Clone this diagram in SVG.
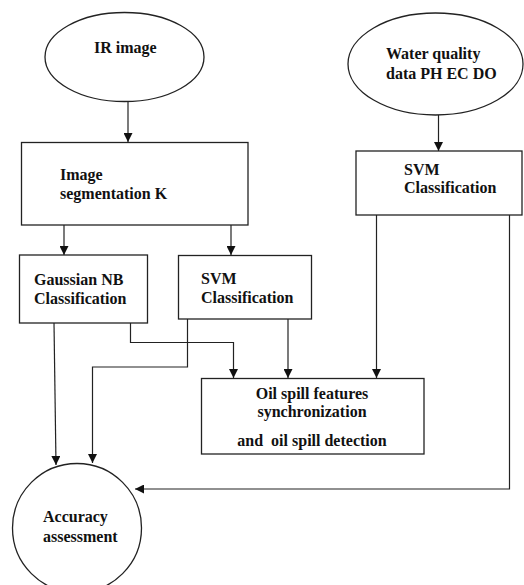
<svg xmlns="http://www.w3.org/2000/svg" width="524" height="585" viewBox="0 0 524 585">
<style>
.shape{fill:#fff;stroke:#222;stroke-width:1.3}
text{font-family:'Liberation Serif','DejaVu Serif','Times New Roman',serif;font-weight:bold;font-size:16px;fill:#111}
.c{text-anchor:middle}
.conn{fill:none;stroke:#222;stroke-width:1.2}
</style>
<defs>
<marker id="ah" viewBox="0 0 10 10" refX="10" refY="5" markerWidth="9" markerHeight="9" markerUnits="userSpaceOnUse" orient="auto">
<path d="M0,0 L10,5 L0,10 z" fill="#111"/>
</marker>
</defs>
<rect width="524" height="585" fill="#fff"/>
<g id="connectors">
<path class="conn" d="M128,102 V142" marker-end="url(#ah)"/>
<path class="conn" d="M64,225 V255" marker-end="url(#ah)"/>
<path class="conn" d="M231,225 V255" marker-end="url(#ah)"/>
<path class="conn" d="M438.5,115 V151" marker-end="url(#ah)"/>
<path class="conn" d="M376.5,215 V378" marker-end="url(#ah)"/>
<path class="conn" d="M509.5,215 V489 H135" marker-end="url(#ah)"/>
<path class="conn" d="M130.5,323 V342.5 H233.5 V378" marker-end="url(#ah)"/>
<path class="conn" d="M187.5,319 V367 H92.5 V463" marker-end="url(#ah)"/>
<path class="conn" d="M288,319 V378" marker-end="url(#ah)"/>
<path class="conn" d="M54,323 L56,465" marker-end="url(#ah)"/>
</g>
<g id="ir-image">
<ellipse class="shape" cx="124.5" cy="57" rx="79.5" ry="44.5"/>
<text x="94" y="53" font-family="Liberation Serif, serif">IR image</text>
</g>
<g id="water-quality">
<ellipse class="shape" cx="435.5" cy="64" rx="87.5" ry="51"/>
<text x="386" y="59">Water quality</text>
<text x="386" y="79">data PH EC DO</text>
</g>
<g id="image-segmentation">
<rect class="shape" x="21.5" y="142.5" width="226.5" height="82.5"/>
<text x="60" y="180">Image</text>
<text x="60" y="199">segmentation K</text>
</g>
<g id="svm-right">
<rect class="shape" x="356" y="151" width="166" height="64"/>
<text x="404" y="175">SVM</text>
<text x="404" y="193">Classification</text>
</g>
<g id="gaussian-nb">
<rect class="shape" x="19.5" y="255" width="128" height="68"/>
<text x="34" y="285">Gaussian NB</text>
<text x="34" y="304">Classification</text>
</g>
<g id="svm-middle">
<rect class="shape" x="178.5" y="255.5" width="133" height="63.5"/>
<text x="201" y="284">SVM</text>
<text x="201" y="303">Classification</text>
</g>
<g id="oil-spill">
<rect class="shape" x="201.5" y="378.5" width="222.5" height="75.5"/>
<text class="c" x="312" y="399">Oil spill features</text>
<text class="c" x="312" y="417">synchronization</text>
<text class="c" x="312" y="446" xml:space="preserve">and  oil spill detection</text>
</g>
<g id="accuracy">
<circle class="shape" cx="77" cy="528" r="64.5"/>
<text x="43" y="522">Accuracy</text>
<text x="43" y="542">assessment</text>
</g>
</svg>
